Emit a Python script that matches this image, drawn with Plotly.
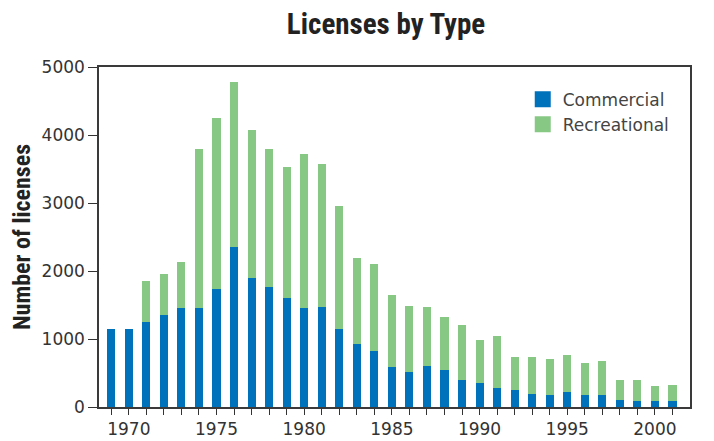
import plotly.graph_objects as go

years = list(range(1969, 2002))
commercial = [1150, 1150, 1250, 1350, 1460, 1460, 1730, 2350, 1900, 1760, 1600, 1450,
              1470, 1140, 920, 830, 590, 520, 610, 550, 390, 360, 280, 250,
              190, 170, 220, 180, 180, 110, 90, 90, 90]
total = [1150, 1150, 1850, 1950, 2130, 3800, 4250, 4780, 4080, 3790, 3530, 3720,
         3580, 2950, 2190, 2100, 1650, 1480, 1470, 1320, 1200, 980, 1040, 730,
         730, 700, 770, 640, 670, 400, 400, 310, 320]
recreational = [t - c for t, c in zip(total, commercial)]

y_ticks = [0, 1000, 2000, 3000, 4000, 5000]
x_labels = [str(y) if y % 5 == 0 else "" for y in years]

BLUE = "#0071BB"
GREEN = "#87C984"

# page body has an 8px margin, so the figure is 8px smaller each way
W, H = 706, 433

fig = go.Figure()
fig.add_trace(go.Bar(x=years, y=commercial, name="Commercial", showlegend=False,
                     marker=dict(color=BLUE, line=dict(width=0)), width=0.46))
fig.add_trace(go.Bar(x=years, y=recreational, name="Recreational", showlegend=False,
                     marker=dict(color=GREEN, line=dict(width=0)), width=0.46))
# legend entries with larger square swatches
fig.add_trace(go.Scatter(x=[None], y=[None], mode="markers", name="Commercial",
                         marker=dict(symbol="square", size=17, color=BLUE)))
fig.add_trace(go.Scatter(x=[None], y=[None], mode="markers", name="Recreational",
                         marker=dict(symbol="square", size=17, color=GREEN)))

cond = "Liberation Sans Narrow, Roboto Condensed, DejaVu Sans Condensed, Arial Narrow, sans-serif"
fig.update_layout(
    barmode="stack",
    width=W, height=H,
    margin=dict(l=91, r=24, t=59, b=34, autoexpand=False),
    paper_bgcolor="white", plot_bgcolor="white",
    title=dict(text="<b>Licenses by Type</b>", x=378 / W, xanchor="center",
               y=1 - 16 / H, yanchor="middle",
               font=dict(family=cond, size=29, color="#222")),
    font=dict(family="DejaVu Sans, sans-serif", size=17, color="#333"),
    legend=dict(x=0.717, y=0.957, xanchor="left", yanchor="top",
                font=dict(family="DejaVu Sans, sans-serif", size=17, color="#444"),
                bgcolor="rgba(0,0,0,0)", traceorder="normal",
                itemwidth=30, tracegroupgap=0),
    showlegend=True,
    bargap=0,
)
fig.update_xaxes(range=[1968.3, 2002.0], tickmode="array", tickvals=years,
                 ticktext=x_labels, ticks="outside", ticklen=6, tickcolor="#333",
                 showline=True, linecolor="#3a3a3a", linewidth=1.5, mirror=True,
                 showgrid=False, zeroline=False, automargin=False,
                 tickfont=dict(family="DejaVu Sans, sans-serif", size=17, color="#333"))
fig.update_yaxes(range=[0, 5000], tickmode="array", tickvals=y_ticks,
                 ticks="outside", ticklen=9, tickcolor="#333",
                 showline=True, linecolor="#3a3a3a", linewidth=1.5, mirror=True,
                 showgrid=False, zeroline=False, automargin=False,
                 tickfont=dict(family="DejaVu Sans, sans-serif", size=17, color="#333"),
                 title=dict(text="<b>Number of licenses</b>", standoff=12,
                            font=dict(family=cond, size=24, color="#222")))

fig.write_html("out.html")
